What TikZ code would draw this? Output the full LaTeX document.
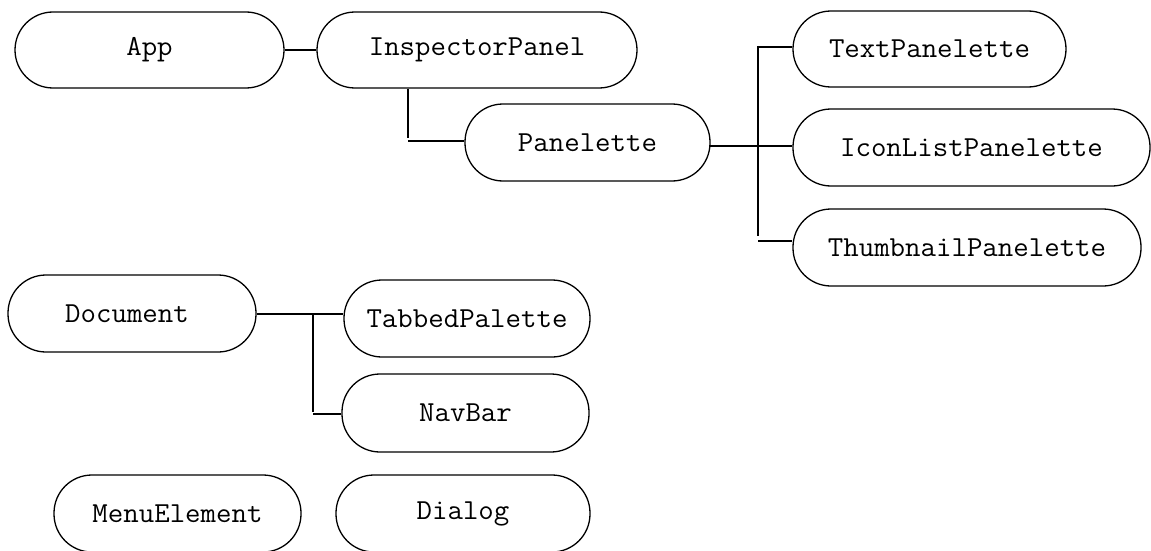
\documentclass[tikz,border=0pt]{standalone}
\usepackage{fontspec}
\setmonofont[FakeStretch=1.035]{Latin Modern Mono}
\begin{document}
\begin{tikzpicture}[x=1pt,y=-1pt,
  pill/.style={draw=black, rounded corners=38pt, minimum height=77pt, inner sep=0pt, line width=1.3pt, font=\ttfamily\fontsize{29}{32}\selectfont},
  conn/.style={draw=black, line width=2.3pt}]
\useasboundingbox[fill=white] (0,0) rectangle (1151,551);
% nodes
\node[pill, minimum width=269pt, minimum height=76pt] (app) at (149.5,50) {App};
\node[pill, minimum width=320pt, minimum height=76pt] (insp) at (477,50) {InspectorPanel};
\node[pill, minimum width=245pt] (pan) at (587.5,142.5) {Panelette};
\node[pill, minimum width=273pt, minimum height=76pt] (tp) at (929.5,49) {TextPanelette};
\node[pill, minimum width=357pt] (icon) at (971.5,147.5) {IconListPanelette};
\node[pill, minimum width=348pt] (thumb) at (967,247.5) {ThumbnailPanelette};
\node[pill, minimum width=248pt] (doc) at (132,313.5) {\hspace*{-10pt}Document};
\node[pill, minimum width=246pt] (tab) at (467,318.5) {TabbedPalette};
\node[pill, minimum width=247pt, minimum height=78pt] (nav) at (465.5,413) {NavBar};
\node[pill, minimum width=247pt] (menu) at (177.5,513.5) {MenuElement};
\node[pill, minimum width=254pt] (dlg) at (463,513.5) {\raisebox{3pt}{Dialog}};
% junction coordinates
\coordinate (j1) at (408,141);
\coordinate (j2) at (758,146);
\coordinate (j3) at (758,47);
\coordinate (j4) at (758,241);
\coordinate (j5) at (313,314);
\coordinate (j6) at (313,414);
% connectors
\draw[conn] (app.east) -- (insp.west);
\draw[conn] (j1 |- insp.south) -- ([yshift=3pt]j1);
\draw[conn] (j1) -- (j1 -| pan.west);
\draw[conn] ([xshift=-1pt]pan.east |- j2) -- (j2 -| icon.west);
\draw[conn] (j3) -- (j3 -| tp.west);
\draw[conn] ([yshift=1pt]j3) -- ([yshift=5pt]j4);
\draw[conn] (j4) -- (j4 -| thumb.west);
\draw[conn] (doc.east |- j5) -- (j5 -| tab.west);
\draw[conn] (j5) -- ([yshift=2pt]j6);
\draw[conn] (j6) -- (j6 -| nav.west);
\end{tikzpicture}
\end{document}
